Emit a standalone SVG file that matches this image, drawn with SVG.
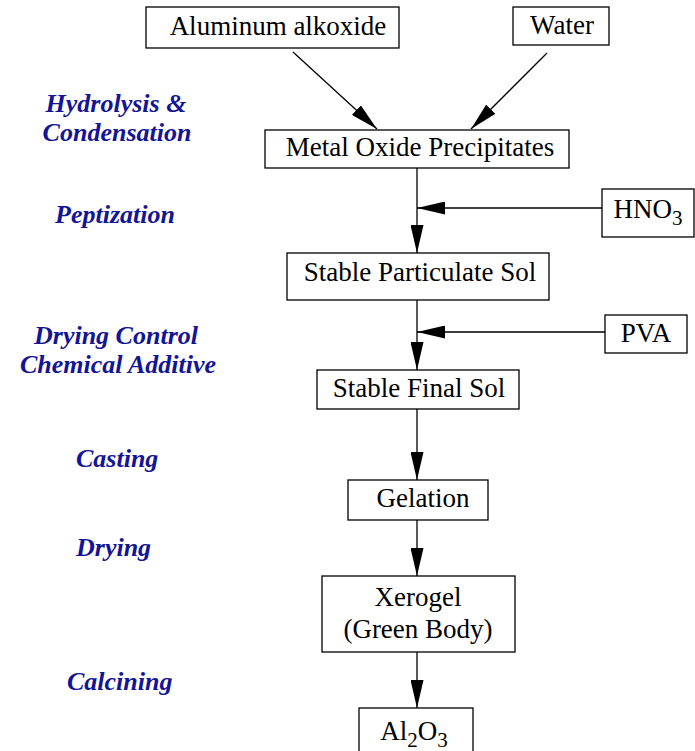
<svg xmlns="http://www.w3.org/2000/svg" width="695" height="751" viewBox="0 0 695 751">
<defs>
<marker id="ah" markerWidth="28" markerHeight="13" refX="28" refY="6.5" orient="auto" markerUnits="userSpaceOnUse">
<path d="M0,0 L28,6.5 L0,13 Z" fill="#000"/>
</marker>
<style>
.box{fill:#fff;stroke:#000;stroke-width:1.3}
.t{font-size:27px;fill:#000;text-anchor:middle}
.lbl{font-size:26px;font-weight:bold;font-style:italic;fill:#141496}
.cm{stroke:#000;stroke-width:1.3;fill:none;marker-end:url(#ah)}
</style>
</defs>
<rect width="695" height="751" fill="#fff"/>
<g id="labels" font-family="Liberation Serif, Times New Roman, DejaVu Serif, serif">
<text class="lbl" x="116" y="112" text-anchor="middle">Hydrolysis &amp;</text>
<text class="lbl" x="117" y="141" text-anchor="middle">Condensation</text>
<text class="lbl" x="115" y="223" text-anchor="middle">Peptization</text>
<text class="lbl" x="116" y="344" text-anchor="middle">Drying Control</text>
<text class="lbl" x="118" y="373" text-anchor="middle">Chemical Additive</text>
<text class="lbl" x="76" y="467">Casting</text>
<text class="lbl" x="76" y="556">Drying</text>
<text class="lbl" x="67" y="690">Calcining</text>
</g>
<g id="connectors">
<line class="cm" x1="293" y1="52" x2="377" y2="129"/>
<line class="cm" x1="547" y1="53" x2="471" y2="129"/>
<line class="cm" x1="417" y1="168" x2="417" y2="253"/>
<line class="cm" x1="602" y1="208" x2="417" y2="208"/>
<line class="cm" x1="417" y1="300" x2="417" y2="370"/>
<line class="cm" x1="605" y1="332" x2="417" y2="332"/>
<line class="cm" x1="417" y1="409" x2="417" y2="480"/>
<line class="cm" x1="417" y1="520" x2="417" y2="576"/>
<line class="cm" x1="417" y1="652" x2="417" y2="708"/>
</g>
<g id="nodes" font-family="Liberation Serif, Times New Roman, DejaVu Serif, serif">
<g id="n-alkoxide"><rect class="box" x="146" y="7" width="253" height="41"/><text class="t" x="278" y="35">Aluminum alkoxide</text></g>
<g id="n-water"><rect class="box" x="513" y="7" width="96" height="38"/><text class="t" x="562" y="34">Water</text></g>
<g id="n-metal"><rect class="box" x="265" y="130" width="304" height="38"/><text class="t" x="420" y="156">Metal Oxide Precipitates</text></g>
<g id="n-hno3"><rect class="box" x="602" y="189" width="92" height="48"/><text class="t" x="648" y="218">HNO<tspan font-size="21" dy="7">3</tspan></text></g>
<g id="n-particulate"><rect class="box" x="287" y="253" width="262" height="47"/><text class="t" x="420" y="281">Stable Particulate Sol</text></g>
<g id="n-pva"><rect class="box" x="605" y="315" width="82" height="38"/><text class="t" x="646" y="342">PVA</text></g>
<g id="n-final"><rect class="box" x="317" y="370" width="202" height="39"/><text class="t" x="419" y="397">Stable Final Sol</text></g>
<g id="n-gelation"><rect class="box" x="348" y="480" width="140" height="40"/><text class="t" x="423" y="507">Gelation</text></g>
<g id="n-xerogel"><rect class="box" x="322" y="576" width="193" height="76"/><text class="t" x="418" y="606">Xerogel</text><text class="t" x="418" y="638">(Green Body)</text></g>
<g id="n-al2o3"><rect class="box" x="359" y="708" width="114" height="50"/><text class="t" x="414" y="740">Al<tspan font-size="21" dy="7">2</tspan><tspan dy="-7">O</tspan><tspan font-size="21" dy="7">3</tspan></text></g>
</g>
</svg>
